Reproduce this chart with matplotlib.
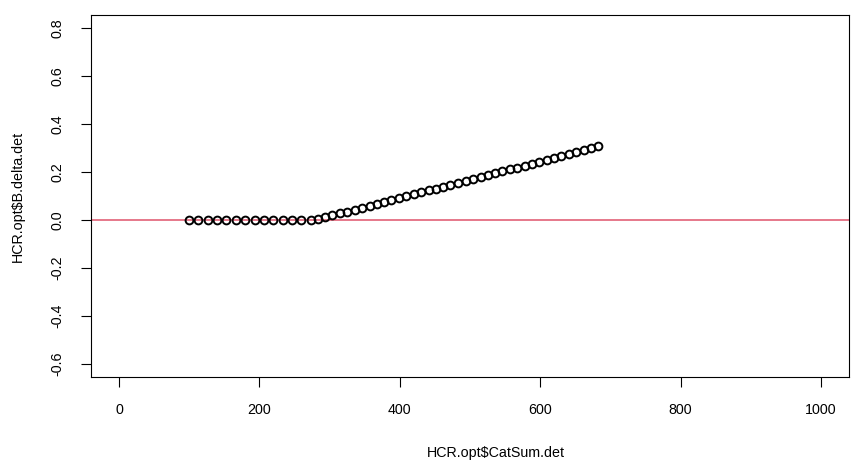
import matplotlib
matplotlib.use('Agg')
import matplotlib.pyplot as plt

plt.rcParams['font.family'] = ['Liberation Sans', 'DejaVu Sans']

cat_sum = [100, 113, 127, 140, 153, 166, 180, 193, 206, 220, 233, 246, 259, 273,
           283, 294, 304, 315, 325, 336, 346, 357, 367, 378, 388, 399, 409, 420,
           430, 441, 451, 462, 472, 483, 494, 504, 515, 525, 536, 546, 557, 567,
           578, 588, 599, 609, 620, 630, 641, 651, 662, 672, 683]
b_delta = [0, 0, 0, 0, 0, 0, 0, 0, 0, 0, 0, 0, 0, 0,
           0.003, 0.011, 0.019, 0.027, 0.035, 0.043, 0.051, 0.059, 0.067, 0.075,
           0.083, 0.091, 0.099, 0.107, 0.115, 0.123, 0.131, 0.139, 0.147, 0.155,
           0.163, 0.171, 0.179, 0.187, 0.195, 0.203, 0.211, 0.219, 0.227, 0.235,
           0.243, 0.251, 0.259, 0.267, 0.275, 0.283, 0.291, 0.299, 0.307]
xticks = [0, 200, 400, 600, 800, 1000]
yticks = [-0.6, -0.4, -0.2, 0.0, 0.2, 0.4, 0.6, 0.8]

fig = plt.figure(figsize=(8.63, 4.68), dpi=100)
ax = fig.add_axes([91/863, 91/468, 758/863, 362/468])

ax.axhline(0, color='#DF536B', lw=1.1, zorder=1)
ax.plot(cat_sum, b_delta, 'o', mfc='none', mec='black', ms=5.6, mew=1.4, zorder=2)

ax.set_xlim(-40, 1040)
ax.set_ylim(-0.656, 0.856)
ax.set_xticks(xticks)
ax.set_xticklabels([str(t) for t in xticks])
ax.set_yticks(yticks)
ax.set_yticklabels(['%.1f' % t for t in yticks], rotation=90, va='center')
ax.tick_params(direction='out', length=7, width=0.8, labelsize=10.3, pad=12)
for s in ax.spines.values():
    s.set_linewidth(0.8)

fig.text(496/863, 1 - 453/468, 'HCR.opt$CatSum.det', ha='center', va='center', fontsize=10.3)
fig.text(18/863, 1 - 196/468, 'HCR.opt$B.delta.det', ha='center', va='center',
         rotation=90, fontsize=10.3)

fig.savefig('out.png', dpi=100)
